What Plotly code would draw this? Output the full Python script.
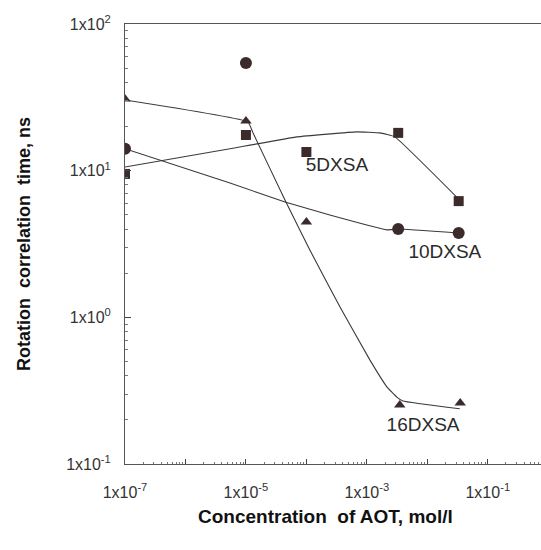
import plotly.graph_objects as go

# measured points
conc5 = [1e-7, 1e-5, 1e-4, 3.3e-3, 3.3e-2]
tau5 = [9.5, 17.5, 13.4, 18.1, 6.2]
conc10 = [1e-7, 1e-5, 3.3e-3, 3.3e-2]
tau10 = [14.1, 54.2, 4.0, 3.76]
conc16 = [1e-7, 1e-5, 1e-4, 3.5e-3, 3.5e-2]
tau16 = [30.8, 21.8, 4.47, 0.253, 0.261]

# fitted curves
fit5_x = [1e-7, 5.45e-6, 6.97e-5, 6.84e-4, 1.64e-3, 2.9e-3, 3.3e-2]
fit5_y = [10.6, 14.1, 17.0, 18.4, 18.1, 17.0, 6.4]
fit10_x = [1e-7, 5.45e-6, 4.42e-5, 2.44e-4, 2.14e-3, 3.25e-3, 3.3e-2]
fit10_y = [14.1, 8.24, 6.12, 4.99, 3.95, 4.0, 3.76]
fit16_x = [1e-7, 1.08e-5, 1.31e-5, 4.42e-5, 1.14e-4, 3.58e-4, 1.12e-3, 2.14e-3, 3.13e-3, 3.94e-3, 3.44e-2]
fit16_y = [30.3, 21.5, 18.1, 6.31, 2.88, 1.18, 0.513, 0.336, 0.286, 0.269, 0.238]

labels = ["5DXSA", "10DXSA", "16DXSA"]
label_x = [3.2e-4, 1.95e-2, 8.5e-3]
label_y = [10.7, 2.75, 0.182]

x_ticks = [1e-7, 1e-6, 1e-5, 1e-4, 1e-3, 1e-2, 1e-1]
x_text = ["1x10<sup>-7</sup>", "", "1x10<sup>-5</sup>", "", "1x10<sup>-3</sup>", "", "1x10<sup>-1</sup>"]
y_ticks = [0.1, 1, 10, 100]
y_text = ["1x10<sup>-1</sup>", "1x10<sup>0</sup>", "1x10<sup>1</sup>", "1x10<sup>2</sup>"]

mc = "#3b2b2b"
lc = "#3a3a3a"
fig = go.Figure()
for fx, fy in [(fit5_x, fit5_y), (fit10_x, fit10_y), (fit16_x, fit16_y)]:
    fig.add_trace(go.Scatter(x=fx, y=fy, mode="lines",
                             line=dict(color=lc, width=1.1, shape="spline", smoothing=0.3),
                             showlegend=False, hoverinfo="skip"))
fig.add_trace(go.Scatter(x=conc5, y=tau5, mode="markers",
                         marker=dict(symbol="square", size=10, color=mc), showlegend=False))
fig.add_trace(go.Scatter(x=conc10, y=tau10, mode="markers",
                         marker=dict(symbol="circle", size=12, color=mc), showlegend=False))
fig.add_trace(go.Scatter(x=conc16, y=tau16, mode="markers",
                         marker=dict(symbol="triangle-up", size=10, color=mc), showlegend=False))
fig.add_trace(go.Scatter(x=label_x, y=label_y, mode="text", text=labels,
                         textfont=dict(family="Liberation Sans", size=19, color="#2a2a2a"),
                         textposition="middle center", showlegend=False))

font = dict(family="Liberation Sans", size=16, color="#333")
fig.update_layout(
    width=541, height=550, autosize=False,
    margin=dict(l=125, r=0, t=24, b=86),
    paper_bgcolor="white", plot_bgcolor="white",
    font=font,
    xaxis=dict(type="log", range=[-7, -0.12], tickmode="array", tickvals=x_ticks, ticktext=x_text,
               ticks="inside", ticklen=5, tickcolor="#444", showline=True, linecolor="#555",
               linewidth=1, mirror=True, showgrid=False, zeroline=False, tickfont=font,
               ticklabelstandoff=14,
               minor=dict(ticks="inside", ticklen=2, tickcolor="#777", showgrid=False,
                          tickvals=[k * 10 ** e for e in range(-7, 0) for k in range(2, 10)])),
    yaxis=dict(type="log", range=[-1, 2], tickmode="array", tickvals=y_ticks, ticktext=y_text,
               ticks="inside", ticklen=6, tickcolor="#444", showline=True, linecolor="#555",
               linewidth=1, showgrid=False, zeroline=False, tickfont=font,
               ticklabelstandoff=10,
               minor=dict(ticks="inside", ticklen=3, tickcolor="#777", showgrid=False,
                          tickvals=[k * 10 ** e for e in range(-1, 2) for k in range(2, 10)])),
    annotations=[
        dict(text="<b>Concentration  of AOT, mol/l</b>", xref="paper", yref="paper",
             x=(325 - 125) / 416, y=-(516 - 464) / 440, showarrow=False,
             font=dict(family="Liberation Sans", size=19, color="#111"), yanchor="middle"),
        dict(text="<b>Rotation  correlation  time, ns</b>", xref="paper", yref="paper",
             x=-(125 - 24) / 416, y=0.5, textangle=-90, showarrow=False,
             font=dict(family="Liberation Sans", size=18, color="#111"), xanchor="center"),
    ],
)
fig.write_html("out.html")
